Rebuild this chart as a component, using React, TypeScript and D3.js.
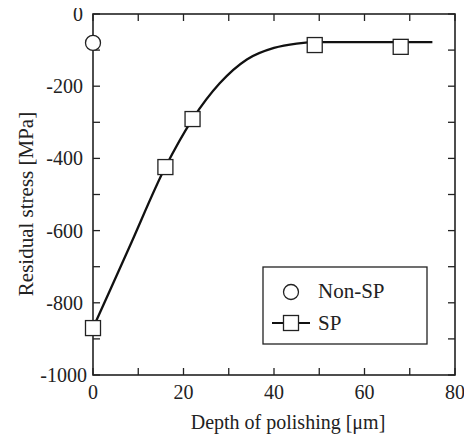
import { useEffect, useRef } from 'react'
import * as d3 from 'd3'

// measured points
const nonSpDepth = [0]
const nonSpStress = [-80]
const spDepth = [0, 16, 22, 49, 68]
const spStress = [-870, -424, -291, -86, -91]

// fitted curve through SP data
const fitDepth = [0, 8, 16, 22, 28, 34, 40, 45, 50, 60, 75]
const fitStress = [-870, -647, -424, -291, -192, -126, -94, -82, -78, -78, -78]

const xTicks = [0, 20, 40, 60, 80]
const yTicks = [0, -200, -400, -600, -800, -1000]

export default function App() {
  const svgRef = useRef<SVGSVGElement>(null)

  useEffect(() => {
    if (!svgRef.current) return
    const W = 472
    const H = 439
    const margin = { top: 14, right: 17, bottom: 64, left: 93 }

    d3.select(svgRef.current).selectAll('*').remove()
    const svg = d3.select(svgRef.current)
      .attr('width', W)
      .attr('height', H)
      .style('font-family', 'Liberation Serif, DejaVu Serif, serif')

    const x = d3.scaleLinear().domain([0, 80]).range([margin.left, W - margin.right])
    const y = d3.scaleLinear().domain([-1000, 0]).range([H - margin.bottom, margin.top])

    const x0 = x(0), x1 = x(80), y0 = y(-1000), y1 = y(0)
    const tk = 7

    // inward ticks on all sides
    const g = svg.append('g').attr('stroke', '#222').attr('stroke-width', 1.3)
    d3.range(0, 81, 10).forEach(t => {
      g.append('line').attr('x1', x(t)).attr('x2', x(t)).attr('y1', y0).attr('y2', y0 - tk)
      g.append('line').attr('x1', x(t)).attr('x2', x(t)).attr('y1', y1).attr('y2', y1 + tk)
    })
    d3.range(-1000, 1, 100).forEach(t => {
      g.append('line').attr('x1', x0).attr('x2', x0 + tk).attr('y1', y(t)).attr('y2', y(t))
      g.append('line').attr('x1', x1).attr('x2', x1 - tk).attr('y1', y(t)).attr('y2', y(t))
    })

    svg.append('rect')
      .attr('x', x0).attr('y', y1)
      .attr('width', x1 - x0).attr('height', y0 - y1)
      .attr('fill', 'none').attr('stroke', '#222').attr('stroke-width', 1.6)

    // tick labels
    svg.selectAll('.xl').data(xTicks).join('text')
      .attr('class', 'xl')
      .attr('x', d => x(d)).attr('y', y0 + 24)
      .attr('text-anchor', 'middle')
      .attr('font-size', '20px').attr('fill', '#222')
      .text(d => d)

    svg.selectAll('.yl').data(yTicks).join('text')
      .attr('class', 'yl')
      .attr('x', d => d === -1000 ? x0 - 6 : x0 - 10).attr('y', d => y(d) + 7)
      .attr('text-anchor', 'end')
      .attr('font-size', '20px').attr('fill', '#222')
      .text(d => d)

    // axis titles
    svg.append('text')
      .attr('x', 288).attr('y', H - 10)
      .attr('text-anchor', 'middle')
      .attr('font-size', '20px').attr('fill', '#222')
      .text('Depth of polishing [μm]')

    svg.append('text')
      .attr('transform', 'translate(33,204) rotate(-90)')
      .attr('text-anchor', 'middle')
      .attr('font-size', '21px').attr('fill', '#222')
      .text('Residual stress [MPa]')

    // fitted line
    const fit = fitDepth.map((d, i) => [d, fitStress[i]] as [number, number])
    const line = d3.line<[number, number]>()
      .x(d => x(d[0])).y(d => y(d[1]))
      .curve(d3.curveMonotoneX)
    svg.append('path')
      .attr('d', line(fit))
      .attr('fill', 'none').attr('stroke', '#111').attr('stroke-width', 2.3)

    // SP squares
    const s = 15
    svg.selectAll('.sp').data(spDepth).join('rect')
      .attr('class', 'sp')
      .attr('x', d => x(d) - s / 2)
      .attr('y', (_, i) => y(spStress[i]) - s / 2)
      .attr('width', s).attr('height', s)
      .attr('fill', '#fff').attr('stroke', '#222').attr('stroke-width', 1.3)

    // Non-SP circle
    svg.selectAll('.nsp').data(nonSpDepth).join('circle')
      .attr('class', 'nsp')
      .attr('cx', d => x(d))
      .attr('cy', (_, i) => y(nonSpStress[i]))
      .attr('r', 7.5)
      .attr('fill', '#fff').attr('stroke', '#222').attr('stroke-width', 1.3)

    // legend
    const lg = svg.append('g')
    lg.append('rect')
      .attr('x', 263).attr('y', 267).attr('width', 164).attr('height', 77)
      .attr('fill', '#fff').attr('stroke', '#222').attr('stroke-width', 1.3)
    lg.append('circle')
      .attr('cx', 291).attr('cy', 292).attr('r', 7.5)
      .attr('fill', '#fff').attr('stroke', '#222').attr('stroke-width', 1.3)
    lg.append('text')
      .attr('x', 318).attr('y', 298)
      .attr('font-size', '21px').attr('fill', '#222')
      .text('Non-SP')
    lg.append('line')
      .attr('x1', 272).attr('x2', 310).attr('y1', 323).attr('y2', 323)
      .attr('stroke', '#111').attr('stroke-width', 2)
    lg.append('rect')
      .attr('x', 291 - s / 2).attr('y', 323 - s / 2).attr('width', s).attr('height', s)
      .attr('fill', '#fff').attr('stroke', '#222').attr('stroke-width', 1.3)
    lg.append('text')
      .attr('x', 318).attr('y', 330)
      .attr('font-size', '21px').attr('fill', '#222')
      .text('SP')
  }, [])

  return (
    <div style={{ margin: -8 }}>
      <svg ref={svgRef}></svg>
    </div>
  )
}
